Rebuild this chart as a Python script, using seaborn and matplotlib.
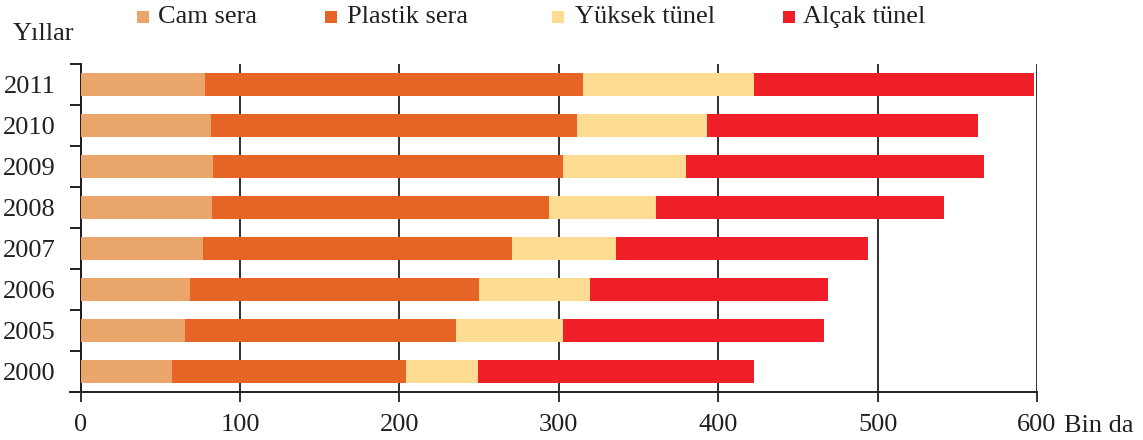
import matplotlib
matplotlib.use("Agg")
import matplotlib.pyplot as plt
from matplotlib.patches import Rectangle
from matplotlib.ticker import FixedLocator
import numpy as np
import pandas as pd
import seaborn as sns

# Greenhouse area by type (thousand decares), top row first
years = ["2011", "2010", "2009", "2008", "2007", "2006", "2005", "2000"]
cam_sera = [78.2, 81.7, 83.3, 82.5, 76.7, 68.7, 65.4, 57.6]
plastik_sera = [237.3, 229.5, 219.4, 211.3, 194.1, 181.3, 170.2, 146.4]
yuksek_tunel = [106.8, 81.6, 77.0, 67.1, 65.1, 69.8, 66.8, 45.5]
alcak_tunel = [175.6, 170.4, 187.3, 180.8, 158.0, 149.2, 164.1, 173.2]

series_names = ["Cam sera", "Plastik sera", "Yüksek tünel", "Alçak tünel"]
series_values = [cam_sera, plastik_sera, yuksek_tunel, alcak_tunel]
series_colors = ["#EAA56A", "#E66526", "#FEDD93", "#EE1F26"]
x_ticks = [0, 100, 200, 300, 400, 500, 600]

INK = "#231F20"

sns.set_theme(style="ticks")
plt.rcParams["font.family"] = ["Liberation Serif", "DejaVu Serif"]
plt.rcParams["text.color"] = INK
plt.rcParams["xtick.color"] = INK
plt.rcParams["ytick.color"] = INK

# cumulative right edges of each stacked segment
df = pd.DataFrame({"Yıl": years})
running = np.zeros(len(years))
cum_cols = []
for name, vals in zip(series_names, series_values):
    running = running + np.asarray(vals)
    df[name] = running
    cum_cols.append(name)

W, H = 1143, 440
fig = plt.figure(figsize=(W / 100, H / 100), dpi=100)
ax = fig.add_axes([70 / W, (H - 392) / H, (1037 - 70) / W, (392 - 64) / H])

# draw the longest stack first, shorter cumulative sums on top
for name, color in reversed(list(zip(cum_cols, series_colors))):
    sns.barplot(data=df, x=name, y="Yıl", order=years, orient="y",
                color=color, saturation=1, width=0.54, linewidth=0, ax=ax,
                zorder=3)

ax.set_xlim(-6.6, 600)
ax.set_ylim(len(years) - 0.5, -0.5)
ax.set_xlabel("")
ax.set_ylabel("")

ax.set_xticks(x_ticks)
ax.set_xticklabels([str(t) for t in x_ticks])
ax.xaxis.grid(True, color=INK, linewidth=1.3)
ax.yaxis.grid(False)
ax.set_axisbelow(True)

for side in ("top", "right"):
    ax.spines[side].set_visible(False)
ax.spines["left"].set_position(("data", 0))
for side in ("left", "bottom"):
    ax.spines[side].set_color(INK)
    ax.spines[side].set_linewidth(1.4)

ax.tick_params(axis="x", which="major", direction="out", length=7.5,
               width=1.3, labelsize=19, pad=8, color=INK)
ax.tick_params(axis="y", which="major", length=0, labelsize=19, pad=18)
ax.yaxis.set_minor_locator(FixedLocator(np.arange(-0.5, len(years), 1.0)))
ax.tick_params(axis="y", which="minor", direction="out", length=8,
               width=1.4, color=INK)

# unit next to the last tick label
ax.annotate("Bin da", xy=(600, 0), xycoords=("data", "axes fraction"),
            xytext=(19.5, -28.6), textcoords="offset points",
            ha="left", va="baseline", fontsize=19, color=INK)

# axis title above the year labels
fig.text(12.5 / W, (H - 39.5) / H, "Yıllar", fontsize=19, color=INK,
         ha="left", va="baseline")

# legend row across the top
square_x = [137, 325, 552, 783]
text_x = [158, 347, 575, 803]
for name, color, sx, tx in zip(series_names, series_colors, square_x, text_x):
    fig.add_artist(Rectangle((sx / W, (H - 23) / H), 12 / W, 12 / H,
                             transform=fig.transFigure, facecolor=color,
                             edgecolor="none"))
    fig.text(tx / W, (H - 23) / H, name, fontsize=19, color=INK,
             ha="left", va="baseline")

fig.savefig("out.png", dpi=100)
